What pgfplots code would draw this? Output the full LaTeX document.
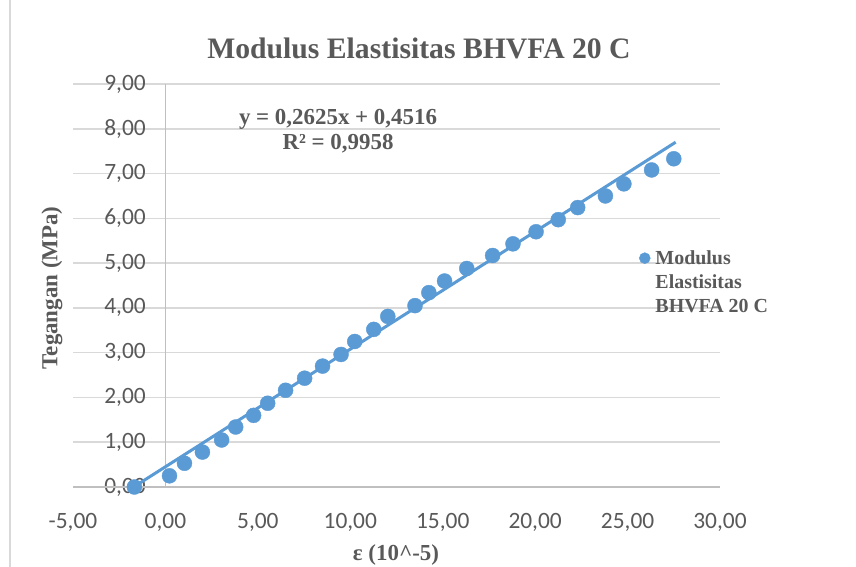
\documentclass[border=0pt]{standalone}
\usepackage{fontspec}
\setmainfont{Liberation Serif}
\newfontfamily\tickfont{Carlito}
\usepackage{pgfplots}
\pgfplotsset{compat=1.18}
\definecolor{mblue}{HTML}{5B9BD5}
\definecolor{tgray}{HTML}{595959}
\definecolor{ggray}{HTML}{D9D9D9}
\definecolor{agray}{HTML}{BFBFBF}

\pgfplotstableread{
x y
-1.68 0.00
0.22 0.25
1.03 0.53
2.00 0.78
3.04 1.05
3.80 1.34
4.77 1.60
5.53 1.87
6.50 2.16
7.53 2.43
8.50 2.70
9.50 2.96
10.24 3.25
11.27 3.52
12.03 3.81
13.50 4.05
14.25 4.34
15.10 4.60
16.30 4.88
17.70 5.17
18.80 5.43
20.05 5.70
21.25 5.97
22.30 6.24
23.80 6.50
24.80 6.77
26.30 7.08
27.50 7.33
}\datatable

\begin{document}
\begin{tikzpicture}[x=1bp,y=1bp]
\path[use as bounding box] (0,0) rectangle (856,567);
\draw[ggray, line width=1.5bp] (10,0) -- (10,567);
\begin{axis}[
  at={(73bp,80bp)}, anchor=south west,
  scale only axis, width=647bp, height=403bp,
  xmin=-5, xmax=30, ymin=0, ymax=9,
  xtick={-5,0,5,10,15,20,25,30},
  ytick={0,1,2,3,4,5,6,7,8,9},
  axis x line=bottom, axis y line=left,
  axis line style={draw=none,-},
  major tick length=0pt,
  ymajorgrids, grid style={ggray, line width=1.5bp},
  clip=false,
  /pgf/number format/.cd, use comma, fixed, fixed zerofill, precision=2, assume math mode=true,
  /pgfplots/.cd,
  xticklabel style={font=\tickfont\fontsize{23.5}{23.5}\selectfont, text=tgray, anchor=north, inner sep=0pt, yshift=-26bp},
  yticklabel style={font=\tickfont\fontsize{23.5}{23.5}\selectfont, text=tgray, anchor=east, inner sep=0pt, xshift=73bp},
  legend style={at={(0.870,0.597)}, anchor=north west, draw=none, fill=none, column sep=3bp,
    font=\bfseries\fontsize{20}{24}\selectfont, text=tgray, cells={align=left}},
  legend image code/.code={\fill[mblue] (0bp,24bp) circle (5.5bp);},
]
\draw[agray, line width=1.5bp] (axis cs:-5,0) -- (axis cs:30,0);
\draw[agray, line width=1.5bp] (axis cs:0,0) -- (axis cs:0,9);
\addplot[mblue, line width=3bp, forget plot] coordinates {(-1.72,0) (27.6,7.70)};
\addplot[only marks, mark=*, mark size=7.5bp, color=mblue, mark options={draw=mblue, fill=mblue}] table[x=x, y=y] {\datatable};
\addlegendentry{Modulus\\Elastisitas\\BHVFA 20 C}
\end{axis}
\node[font=\bfseries\fontsize{29.8}{29.8}\selectfont, text=tgray] at (419,519) {Modulus Elastisitas BHVFA 20 C};
\node[font=\bfseries\fontsize{23}{25}\selectfont, text=tgray, align=center] at (338,436) {y = 0,2625x + 0,4516\\R² = 0,9958};
\node[font=\bfseries\fontsize{23}{23}\selectfont, text=tgray] at (396,12) {ε (10\textasciicircum-5)};
\node[font=\bfseries\fontsize{23}{23}\selectfont, text=tgray, rotate=90] at (52,279) {Tegangan (MPa)};
\end{tikzpicture}
\end{document}
